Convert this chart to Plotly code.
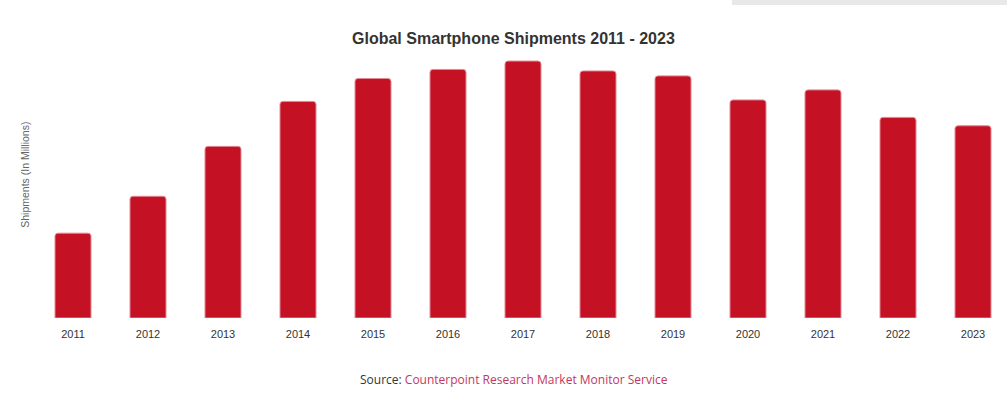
import plotly.graph_objects as go

years = ["2011", "2012", "2013", "2014", "2015", "2016", "2017",
         "2018", "2019", "2020", "2021", "2022", "2023"]
shipments = [515, 739, 1042, 1315, 1454, 1509, 1560,
             1500, 1470, 1324, 1385, 1218, 1167]

title_text = "Global Smartphone Shipments 2011 - 2023"
y_title = "Shipments (In Millions)"
source_label = "Source: "
source_name = "Counterpoint Research Market Monitor Service"

OFF = 0  # page body margin removed via post_script
W, H = 1007, 398
ML, MR, MT = 20, 10, 50
BASE = 318.5 - OFF
MB = H - BASE
plot_w = W - ML - MR
plot_h = H - MT - MB
cat_px = 75.0
x0 = -((73 - OFF) - ML) / cat_px
x1 = x0 + plot_w / cat_px
y_max = plot_h * 6.06


def px_x(p):
    return (p - OFF - ML) / plot_w


def px_y(p):
    return (BASE - (p - OFF)) / plot_h


fig = go.Figure(
    go.Bar(
        x=list(range(len(years))),
        y=shipments,
        width=0.48,
        marker=dict(color="#c41124", line=dict(color="#e38a97", width=1)),
        hoverinfo="x+y",
    )
)

fig.update_layout(
    width=W,
    height=H,
    margin=dict(l=ML, r=MR, t=MT, b=MB),
    paper_bgcolor="white",
    plot_bgcolor="white",
    barcornerradius=3,
    showlegend=False,
    font=dict(family="Liberation Sans, Arial, sans-serif", color="#333333"),
    xaxis=dict(
        range=[x0, x1],
        tickmode="array",
        tickvals=list(range(len(years))),
        ticktext=years,
        showgrid=False,
        zeroline=False,
        showline=False,
        ticks="",
        tickfont=dict(size=11, color="#333333"),
        ticklabelstandoff=8,
        fixedrange=True,
    ),
    yaxis=dict(
        range=[0, y_max],
        showgrid=False,
        zeroline=False,
        showline=False,
        showticklabels=False,
        ticks="",
        fixedrange=True,
    ),
    shapes=[
        dict(type="rect", xref="paper", yref="paper",
             x0=px_x(732), x1=px_x(1020), y0=px_y(5), y1=px_y(-10),
             fillcolor="#e8e8e8", line=dict(width=0), layer="below"),
    ],
    annotations=[
        dict(text="<b>" + title_text + "</b>", xref="paper", yref="paper",
             x=px_x(513), y=px_y(38), xanchor="center", yanchor="middle",
             showarrow=False,
             font=dict(size=16, color="#333333", family="Liberation Sans, Arial, sans-serif")),
        dict(text=y_title, xref="paper", yref="paper",
             x=px_x(25), y=px_y(175), xanchor="center", yanchor="middle",
             textangle=-90, showarrow=False,
             font=dict(size=10.5, color="#666666", family="Liberation Sans, Arial, sans-serif")),
        dict(text=source_label + "<span style='color:#c0395c'>" + source_name + "</span>",
             xref="paper", yref="paper",
             x=px_x(514), y=px_y(380), xanchor="center", yanchor="middle",
             showarrow=False,
             font=dict(size=12, color="#333333", family="Open Sans, sans-serif")),
    ],
)

fig.write_html(
    "out.html",
    config={"displayModeBar": False},
    post_script="document.body.style.margin='0';document.body.style.padding='0';",
)
